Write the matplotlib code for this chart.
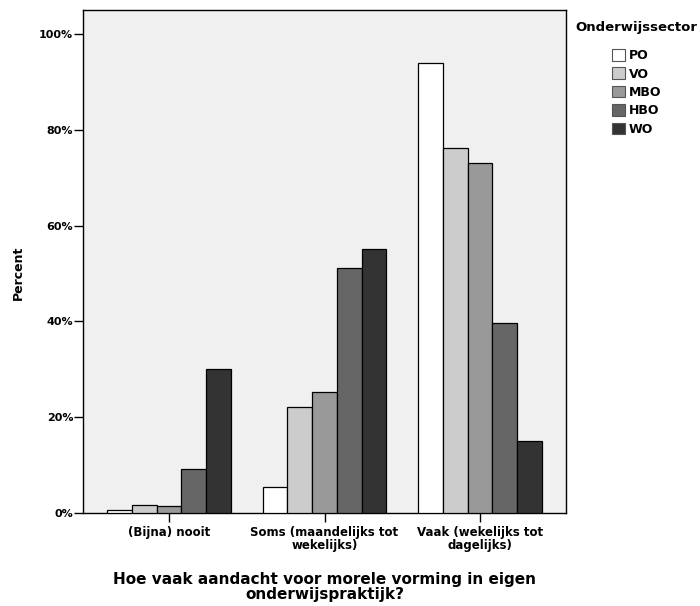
import matplotlib
matplotlib.use("Agg")
import matplotlib.pyplot as plt
import numpy as np
from matplotlib.patches import Patch

categories = ["(Bijna) nooit", "Soms (maandelijks tot\nwekelijks)", "Vaak (wekelijks tot\ndagelijks)"]
sectors = ["PO", "VO", "MBO", "HBO", "WO"]
po = [0.6, 5.4, 94.0]
vo = [1.7, 22.1, 76.2]
mbo = [1.5, 25.2, 73.2]
hbo = [9.2, 51.2, 39.6]
wo = [30.0, 55.1, 14.9]
series = [po, vo, mbo, hbo, wo]
colors = ["#ffffff", "#cccccc", "#999999", "#666666", "#333333"]
yticks = [0, 20, 40, 60, 80, 100]
ytick_labels = ["0%", "20%", "40%", "60%", "80%", "100%"]

plt.rcParams['font.family'] = ['DejaVu Sans']
plt.rcParams['font.weight'] = 'bold'

fig = plt.figure(figsize=(7.0, 6.06), dpi=100)
ax = fig.add_axes([83/700, 1 - 512.7/606, (566-83)/700, (512.7-10)/606])
ax.set_facecolor("#f0f0f0")

x = np.arange(len(categories))
w = 0.159
for i, (vals, c) in enumerate(zip(series, colors)):
    ax.bar(x + (i - 2) * w, vals, width=w, color=c, edgecolor="black", linewidth=0.9, zorder=3)

ax.set_xlim(-0.553, 2.553)
ax.set_ylim(0, 105.1)
ax.set_yticks(yticks)
ax.set_yticklabels(ytick_labels, fontsize=8, fontweight='bold')
ax.set_xticks(x)
ax.set_xticklabels(categories, fontsize=8.5, fontweight='bold', linespacing=1.05)
ax.tick_params(axis='both', direction='out', length=6.5, width=1, color='black', pad=0.5)
ax.tick_params(axis='x', pad=3)
for s in ax.spines.values():
    s.set_linewidth(1)
    s.set_color('black')

ax.set_ylabel("Percent", fontsize=9, fontweight='bold')
ax.yaxis.set_label_coords(-(83 - 25) / 483, (512.7 - 273) / 502.7)
ax.set_xlabel("Hoe vaak aandacht voor morele vorming in eigen\nonderwijspraktijk?", fontsize=11,
              fontweight='bold', linespacing=1.05, labelpad=14)

fig.text(636.5/700, 1 - 28/606, "Onderwijssector", fontsize=9.5, fontweight='bold',
         ha='center', va='center')
handles = [Patch(facecolor=c, edgecolor="#555555", linewidth=0.8) for c in colors]
leg = fig.legend(handles, sectors, loc="upper left",
                 bbox_to_anchor=(612/700, 1 - 49/606), frameon=False,
                 prop={'size': 9, 'weight': 'bold'},
                 handlelength=1.05, handleheight=1.05, handletextpad=0.3, labelspacing=0.43,
                 borderpad=0.0, borderaxespad=0.0)

fig.savefig("out.png", dpi=100)
